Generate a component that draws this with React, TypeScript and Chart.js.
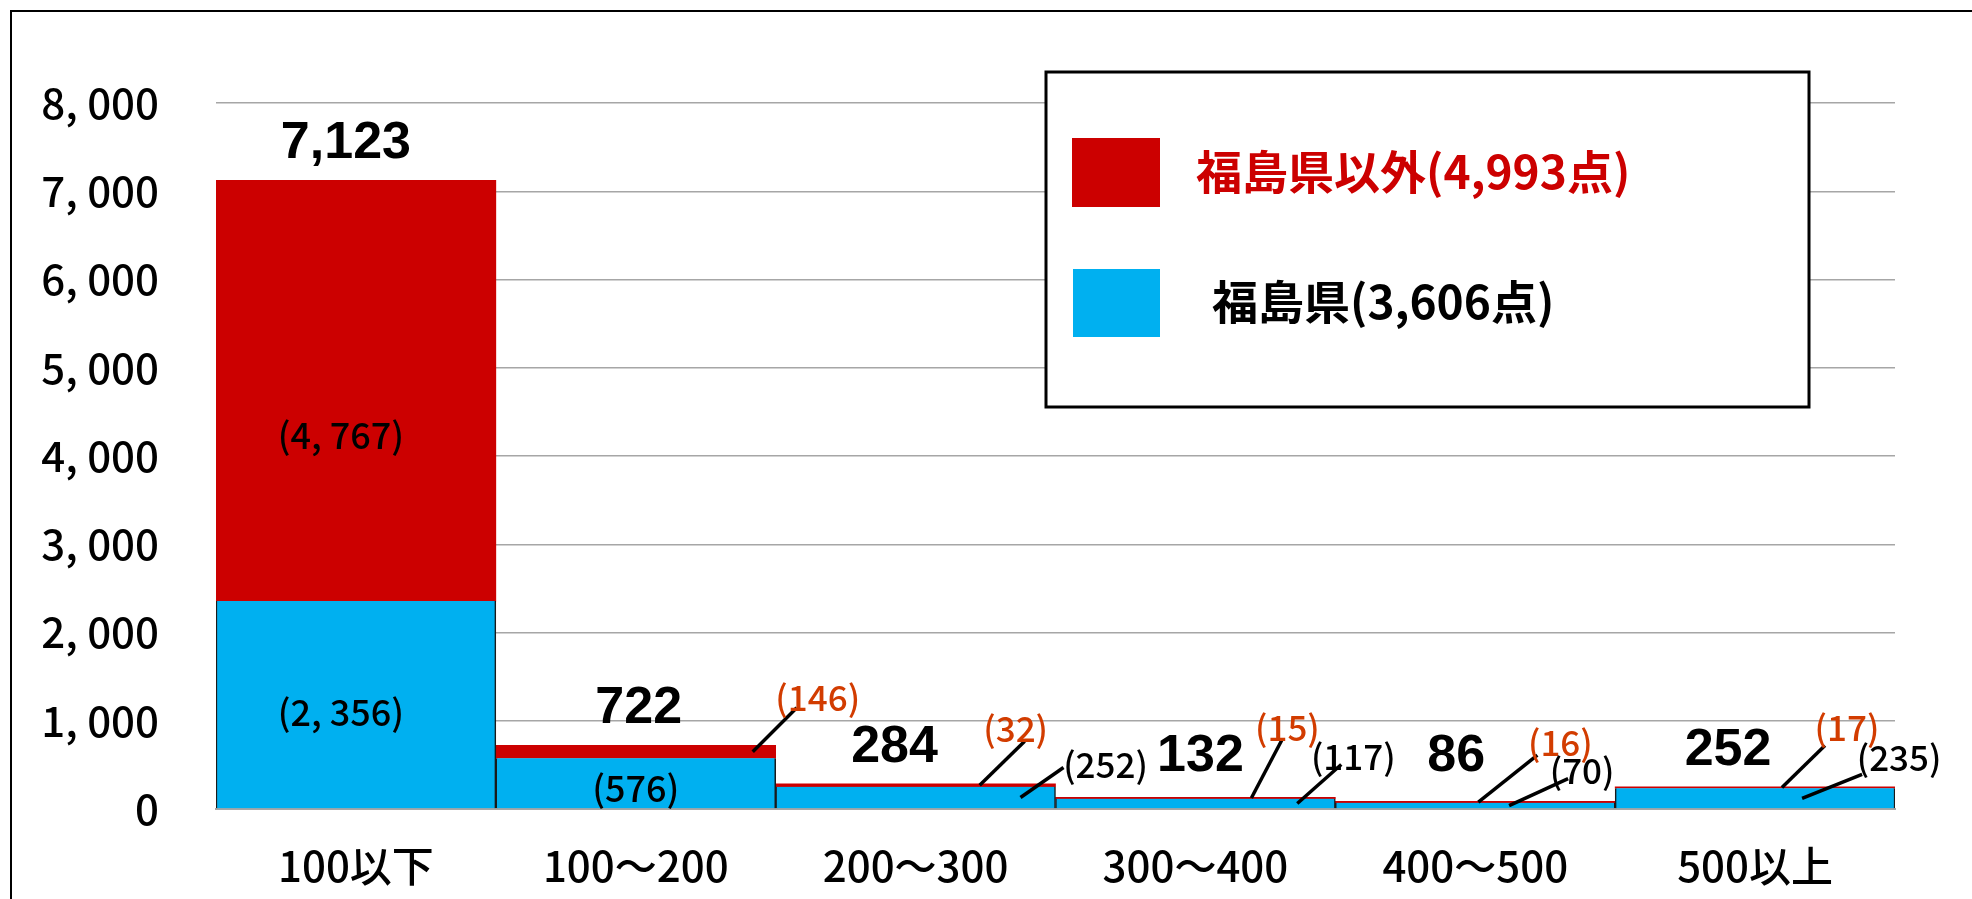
import React, { useEffect, useRef } from 'react';
import { Chart, registerables } from 'chart.js';

Chart.register(...registerables);

// ---- data ----
const categories = ['100以下', '100～200', '200～300', '300～400', '400～500', '500以上'];
const fukushima = [2356, 576, 252, 117, 70, 235];
const otherPref = [4767, 146, 32, 15, 16, 17];
const yMin = 0;
const yMax = 8000;
const yStep = 1000;
const nameFukushima = '福島県';
const nameOther = '福島県以外';

// ---- derived ----
const totals = categories.map((_, i) => fukushima[i] + otherPref[i]);
const sum = (a: number[]) => a.reduce((s, v) => s + v, 0);
const fmt = (n: number) => n.toLocaleString('en-US');
const fmtSpaced = (n: number) => fmt(n).replace(/,/g, ', ');

// ---- styles ----
const RED = '#CC0000';
const BLUE = '#00B0F0';
const CALLOUT_RED = '#D23C00';
const GRID = '#A6A6A6';
const JP = '"Noto Sans CJK JP", "Noto Sans", sans-serif';
const BOLD_LATIN = '"Liberation Sans", Arial, sans-serif';

// label layout (offsets in px relative to bar segments)
const totalDx = [-10, 3, -21, 5, -19, -27];
const innerLabels = [
  { ds: 1, idx: 0, dx: -15, dy: 45 },
  { ds: 0, idx: 0, dx: -15, dy: 8 },
  { ds: 0, idx: 1, dx: 0, dy: 5 },
];
const callouts = [
  { ds: 1, idx: 1, fx: 0.918, lx: 44, ly: -44, tx: 65, ty: -54 },
  { ds: 1, idx: 2, fx: 0.729, lx: 45, ly: -44, tx: 36, ty: -57 },
  { ds: 0, idx: 2, fx: 0.875, lx: 43, ly: -30, tx: 85, ty: -33 },
  { ds: 1, idx: 3, fx: 0.70, lx: 31, ly: -59, tx: 36, ty: -70 },
  { ds: 0, idx: 3, fx: 0.864, lx: 44, ly: -39, tx: 56, ty: -47 },
  { ds: 1, idx: 4, fx: 0.511, lx: 59, ly: -47, tx: 82, ty: -59 },
  { ds: 0, idx: 4, fx: 0.621, lx: 59, ly: -27, tx: 73, ty: -35 },
  { ds: 1, idx: 5, fx: 0.596, lx: 43, ly: -42, tx: 65, ty: -60 },
  { ds: 0, idx: 5, fx: 0.668, lx: 60, ly: -24, tx: 97, ty: -41 },
];
const legendBox = { x: 1046, y: 72, w: 763, h: 335 };

const annotate = {
  id: 'annotate',
  afterDatasetsDraw(chart: any) {
    const ctx = chart.ctx as CanvasRenderingContext2D;
    const yS = chart.scales.y;
    const metas = [chart.getDatasetMeta(0), chart.getDatasetMeta(1)];
    const vals = [fukushima, otherPref];
    ctx.save();

    // totals
    ctx.font = `bold 52px ${BOLD_LATIN}`;
    ctx.fillStyle = '#000';
    ctx.textAlign = 'center';
    ctx.textBaseline = 'alphabetic';
    totals.forEach((t, i) => {
      const bar = metas[1].data[i];
      const base = Math.min(yS.getPixelForValue(t) - 22, yS.getPixelForValue(430));
      ctx.fillText(fmt(t), bar.x + totalDx[i], base);
    });

    // inner labels
    ctx.font = `500 36px ${JP}`;
    ctx.textBaseline = 'middle';
    innerLabels.forEach((l) => {
      const el = metas[l.ds].data[l.idx];
      const mid = (el.y + el.base) / 2;
      ctx.fillStyle = '#000';
      ctx.fillText(`(${fmtSpaced(vals[l.ds][l.idx])})`, el.x + l.dx, mid + l.dy);
    });

    // callouts
    ctx.font = `500 35px ${JP}`;
    callouts.forEach((c) => {
      const el = metas[c.ds].data[c.idx];
      const left = el.x - el.width / 2;
      const ax = left + el.width * c.fx;
      const ay = (el.y + el.base) / 2;
      ctx.strokeStyle = '#000';
      ctx.lineWidth = 3.5;
      ctx.beginPath();
      ctx.moveTo(ax, ay);
      ctx.lineTo(ax + c.lx, ay + c.ly);
      ctx.stroke();
      ctx.fillStyle = c.ds === 1 ? CALLOUT_RED : '#000';
      ctx.fillText(`(${fmt(vals[c.ds][c.idx])})`, ax + c.tx, ay + c.ty);
    });

    // legend box
    ctx.fillStyle = '#fff';
    ctx.fillRect(legendBox.x, legendBox.y, legendBox.w, legendBox.h);
    ctx.strokeStyle = '#000';
    ctx.lineWidth = 3;
    ctx.strokeRect(legendBox.x, legendBox.y, legendBox.w, legendBox.h);
    ctx.fillStyle = RED;
    ctx.fillRect(1072, 138, 88, 69);
    ctx.fillStyle = BLUE;
    ctx.fillRect(1073, 269, 87, 68);
    ctx.font = `bold 46px ${JP}`;
    ctx.textAlign = 'left';
    ctx.textBaseline = 'middle';
    ctx.fillStyle = RED;
    ctx.fillText(chart.data.datasets[1].label, 1196, 172);
    ctx.fillStyle = '#000';
    ctx.fillText(chart.data.datasets[0].label, 1212, 302);

    ctx.restore();
  },
  afterDraw(chart: any) {
    const ctx = chart.ctx as CanvasRenderingContext2D;
    ctx.save();
    ctx.strokeStyle = '#000';
    ctx.lineWidth = 2;
    ctx.strokeRect(11, 11, 2100, 1000);
    ctx.restore();
  },
};

export default function App() {
  const ref = useRef<HTMLCanvasElement | null>(null);
  useEffect(() => {
    if (!ref.current) return;
    const chart = new Chart(ref.current, {
      type: 'bar',
      data: {
        labels: categories,
        datasets: [
          {
            label: `${nameFukushima}(${fmt(sum(fukushima))}点)`,
            data: fukushima,
            backgroundColor: BLUE,
            borderColor: '#1a1a1a',
            borderWidth: { left: 1.5, right: 1.5, top: 0, bottom: 0 } as any,
            barPercentage: 1,
            categoryPercentage: 1,
          },
          {
            label: `${nameOther}(${fmt(sum(otherPref))}点)`,
            data: otherPref,
            backgroundColor: RED,
            borderWidth: 0,
            barPercentage: 1,
            categoryPercentage: 1,
          },
        ],
      },
      options: {
        responsive: false,
        animation: false,
        devicePixelRatio: 1,
        layout: { padding: { top: 103, right: 77, left: 0, bottom: 0 } },
        plugins: { legend: { display: false }, tooltip: { enabled: false } },
        scales: {
          x: {
            stacked: true,
            grid: { display: false },
            border: { display: true, color: GRID, width: 2 },
            ticks: { color: '#000', font: { family: JP, size: 42, weight: 500 as any }, padding: 24, maxRotation: 0 },
            afterFit: (s: any) => { s.height = 90; },
          },
          y: {
            stacked: true,
            min: yMin,
            max: yMax,
            ticks: {
              stepSize: yStep,
              color: '#000',
              font: { family: JP, size: 42, weight: 500 as any },
              padding: 57,
              callback: (v: any) => fmtSpaced(Number(v)),
            },
            grid: { color: GRID, lineWidth: 1.5, drawTicks: false },
            border: { display: false },
            afterFit: (s: any) => { s.width = 216; },
          },
        },
      },
      plugins: [annotate],
    });
    return () => chart.destroy();
  }, []);
  return (
    <div style={{ position: 'absolute', left: 0, top: 0, width: 1972, height: 899, background: '#fff' }}>
      <canvas ref={ref} width={1972} height={899} style={{ display: 'block' }} />
    </div>
  );
}
